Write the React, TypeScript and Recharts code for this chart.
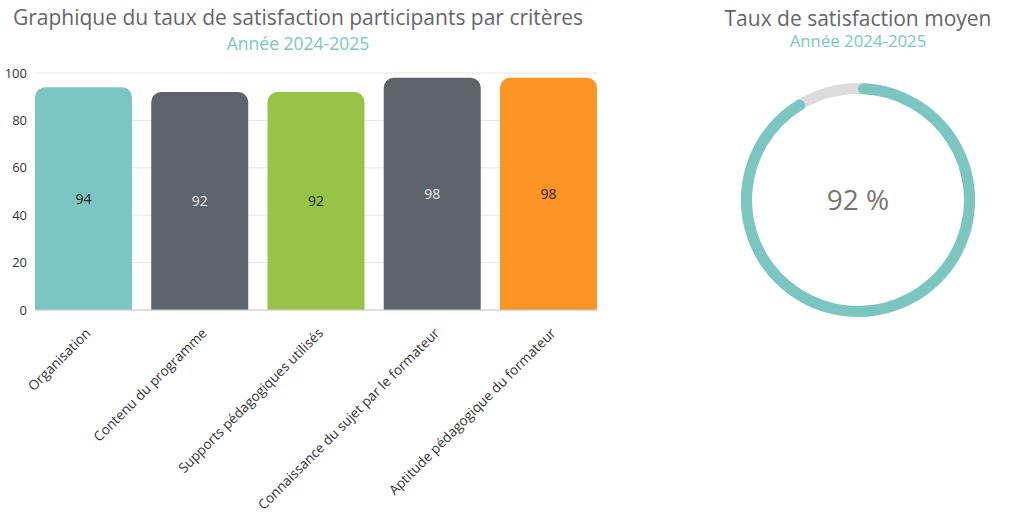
import React from 'react';
import { Bar, BarChart, CartesianGrid, Cell, Label, LabelList, Pie, PieChart, XAxis, YAxis } from 'recharts';

const criteres = [
  'Organisation',
  'Contenu du programme',
  'Supports pédagogiques utilisés',
  'Connaissance du sujet par le formateur',
  'Aptitude pédagogique du formateur',
];
const scores = [94, 92, 92, 98, 98];
const barColors = ['#7cc6c1', '#5c636b', '#97c347', '#5c636b', '#fe9423'];
const labelColors = ['#222222', '#eeeeee', '#222222', '#eeeeee', '#222222'];
const yTicks = [0, 20, 40, 60, 80, 100];

const moyenne = 92;
const gauge = [
  { name: 'satisfait', value: moyenne },
  { name: 'reste', value: 100 - moyenne },
];
const track = [{ name: 'total', value: 100 }];

const FONT = '"Open Sans", sans-serif';
const TEAL = '#7cc6c1';

const chartData = criteres.map((c, i) => ({ critere: c, score: scores[i] }));

//@ts-ignore
const RotatedTick = ({ x, y, payload }) => {
  const px = x + 8;
  const py = y + 16;
  return (
    <text x={px} y={py} transform={`rotate(-45, ${px}, ${py})`} textAnchor="end" fill="#333333" fontSize={13.6} fontFamily={FONT}>
      {payload.value}
    </text>
  );
};

//@ts-ignore
const ValueLabel = ({ x, y, width, height, value, index }) => (
  <text x={x + width / 2} y={y + height / 2} textAnchor="middle" dominantBaseline="central" fill={labelColors[index]} fontSize={14} fontFamily={FONT}>
    {value}
  </text>
);

const titleStyle: React.CSSProperties = {
  position: 'absolute',
  textAlign: 'center',
  fontFamily: FONT,
  color: '#63666b',
  fontSize: 21,
  lineHeight: '22px',
  whiteSpace: 'nowrap',
};
const subStyle: React.CSSProperties = {
  ...titleStyle,
  color: TEAL,
  fontSize: 17.5,
  lineHeight: '18px',
};

export default function App() {
  return (
    <div style={{ position: 'absolute', left: 0, top: 0, width: 1024, height: 515, background: '#fff' }}>
      <div style={{ position: 'absolute', left: 0, top: 0 }}>
        <BarChart width={620} height={515} data={chartData} margin={{ top: 73, right: 23, left: 0, bottom: 5 }} barCategoryGap={9.6}>
          <CartesianGrid vertical={false} stroke="#e6e6e6" />
          <XAxis
            dataKey="critere"
            interval={0}
            height={200}
            padding={{ left: -9.6, right: -9.6 }}
            tickLine={false}
            axisLine={{ stroke: '#cccccc' }}
            tick={RotatedTick}
          />
          <YAxis
            width={35}
            domain={[0, 100]}
            ticks={yTicks}
            tickLine={false}
            axisLine={false}
            tick={{ fill: '#333333', fontSize: 13, fontFamily: FONT }}
          />
          <Bar dataKey="score" radius={[10, 10, 0, 0]} isAnimationActive={false}>
            {chartData.map((d, i) => (
              <Cell key={`cell-${i}`} fill={barColors[i]} />
            ))}
            <LabelList dataKey="score" content={ValueLabel} />
          </Bar>
        </BarChart>
      </div>
      <div style={{ position: 'absolute', left: 708, top: 50 }}>
        <PieChart width={300} height={300} margin={{ top: 0, right: 0, bottom: 0, left: 0 }}>
          <Pie data={track} dataKey="value" cx={150} cy={150} innerRadius={106} outerRadius={117} startAngle={90} endAngle={-270} fill="#dcdcdc" stroke="none" isAnimationActive={false} />
          <Pie data={gauge} dataKey="value" cx={150} cy={150} innerRadius={106} outerRadius={117} startAngle={90} endAngle={-270} cornerRadius={6} stroke="none" isAnimationActive={false}>
            <Cell fill={TEAL} />
            <Cell fill="none" />
            <Label value={`${moyenne} %`} position="center" fill="#7b736d" fontSize={28} fontFamily={FONT} />
          </Pie>
        </PieChart>
      </div>
      <div style={{ ...titleStyle, left: 0, width: 596, top: 6 }}>Graphique du taux de satisfaction participants par critères</div>
      <div style={{ ...subStyle, left: 0, width: 596, top: 34 }}>Année 2024-2025</div>
      <div style={{ ...titleStyle, left: 718, width: 280, top: 7 }}>Taux de satisfaction moyen</div>
      <div style={{ ...subStyle, fontSize: 16.8, left: 718, width: 280, top: 32 }}>Année 2024-2025</div>
    </div>
  );
}
